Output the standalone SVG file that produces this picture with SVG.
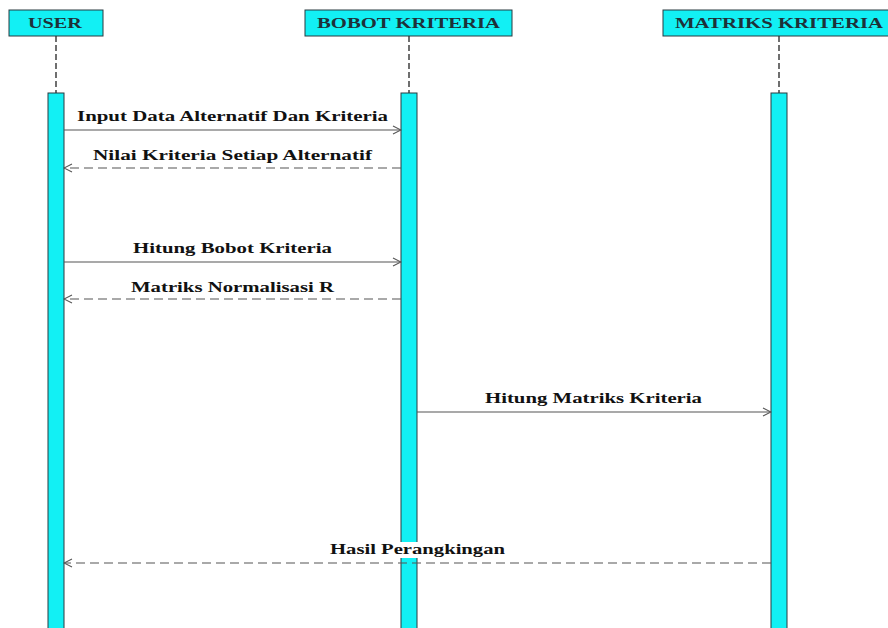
<svg xmlns="http://www.w3.org/2000/svg" width="888" height="628" viewBox="0 0 888 628">
<style>
.box{fill:#12F0F4;stroke:#2a3a40;stroke-width:1}
.hdr{font-family:"Liberation Serif","Times New Roman",serif;font-weight:bold;font-size:14px;fill:#1e3038}
.life{stroke:#333;stroke-width:1.4;stroke-dasharray:6 3}
.bar{fill:#12F0F4;stroke:#2a3a40;stroke-width:1}
.msg{stroke:#555;stroke-width:1.1;fill:none}
.ret{stroke:#555;stroke-width:1.1;fill:none;stroke-dasharray:9 5}
.lbl{font-family:"Liberation Serif","Times New Roman",serif;font-weight:bold;font-size:14px;fill:#111}
</style>
<defs>
<marker id="arr" viewBox="0 0 10 10" refX="9" refY="5" markerWidth="10" markerHeight="10" markerUnits="userSpaceOnUse" orient="auto">
<path d="M1,1 L9,5 L1,9" fill="none" stroke="#555" stroke-width="1.1"/>
</marker>
</defs>
<rect width="888" height="628" fill="#fff"/>
<g id="user">
<rect class="box" x="9" y="10" width="94" height="26"/>
<text class="hdr" x="55" y="27.5" text-anchor="middle" textLength="54" lengthAdjust="spacingAndGlyphs">USER</text>
<line class="life" x1="56" y1="36" x2="56" y2="93"/>
<rect class="bar" x="48" y="93" width="16" height="545"/>
</g>
<g id="bobot">
<rect class="box" x="305" y="10" width="207" height="26"/>
<text class="hdr" x="408.5" y="27.5" text-anchor="middle" textLength="183" lengthAdjust="spacingAndGlyphs">BOBOT KRITERIA</text>
<line class="life" x1="409" y1="36" x2="409" y2="93"/>
<rect class="bar" x="401" y="93" width="16" height="545"/>
</g>
<g id="matriks">
<rect class="box" x="663" y="10" width="230" height="26"/>
<text class="hdr" x="779" y="27.5" text-anchor="middle" textLength="208" lengthAdjust="spacingAndGlyphs">MATRIKS KRITERIA</text>
<line class="life" x1="779" y1="36" x2="779" y2="93"/>
<rect class="bar" x="771" y="93" width="16" height="545"/>
</g>
<g id="connectors">
<line class="msg" x1="64" y1="130" x2="401" y2="130" marker-end="url(#arr)"/>
<text class="lbl" x="232.5" y="121" text-anchor="middle" textLength="311" lengthAdjust="spacingAndGlyphs">Input Data Alternatif Dan Kriteria</text>
<line class="ret" x1="401" y1="168" x2="64" y2="168" marker-end="url(#arr)"/>
<text class="lbl" x="232.5" y="160" text-anchor="middle" textLength="279" lengthAdjust="spacingAndGlyphs">Nilai Kriteria Setiap Alternatif</text>
<line class="msg" x1="64" y1="262" x2="401" y2="262" marker-end="url(#arr)"/>
<text class="lbl" x="232.5" y="253" text-anchor="middle" textLength="199" lengthAdjust="spacingAndGlyphs">Hitung Bobot Kriteria</text>
<line class="ret" x1="401" y1="299" x2="64" y2="299" marker-end="url(#arr)"/>
<text class="lbl" x="232.5" y="292" text-anchor="middle" textLength="203" lengthAdjust="spacingAndGlyphs">Matriks Normalisasi R</text>
<line class="msg" x1="417" y1="412" x2="771" y2="412" marker-end="url(#arr)"/>
<text class="lbl" x="593.5" y="403" text-anchor="middle" textLength="217" lengthAdjust="spacingAndGlyphs">Hitung Matriks Kriteria</text>
<rect x="326" y="542" width="183" height="16" fill="#fff"/>
<line class="ret" x1="771" y1="563" x2="64" y2="563" marker-end="url(#arr)"/>
<text class="lbl" x="417.5" y="554" text-anchor="middle" textLength="175" lengthAdjust="spacingAndGlyphs">Hasil Perangkingan</text>
</g>
</svg>
